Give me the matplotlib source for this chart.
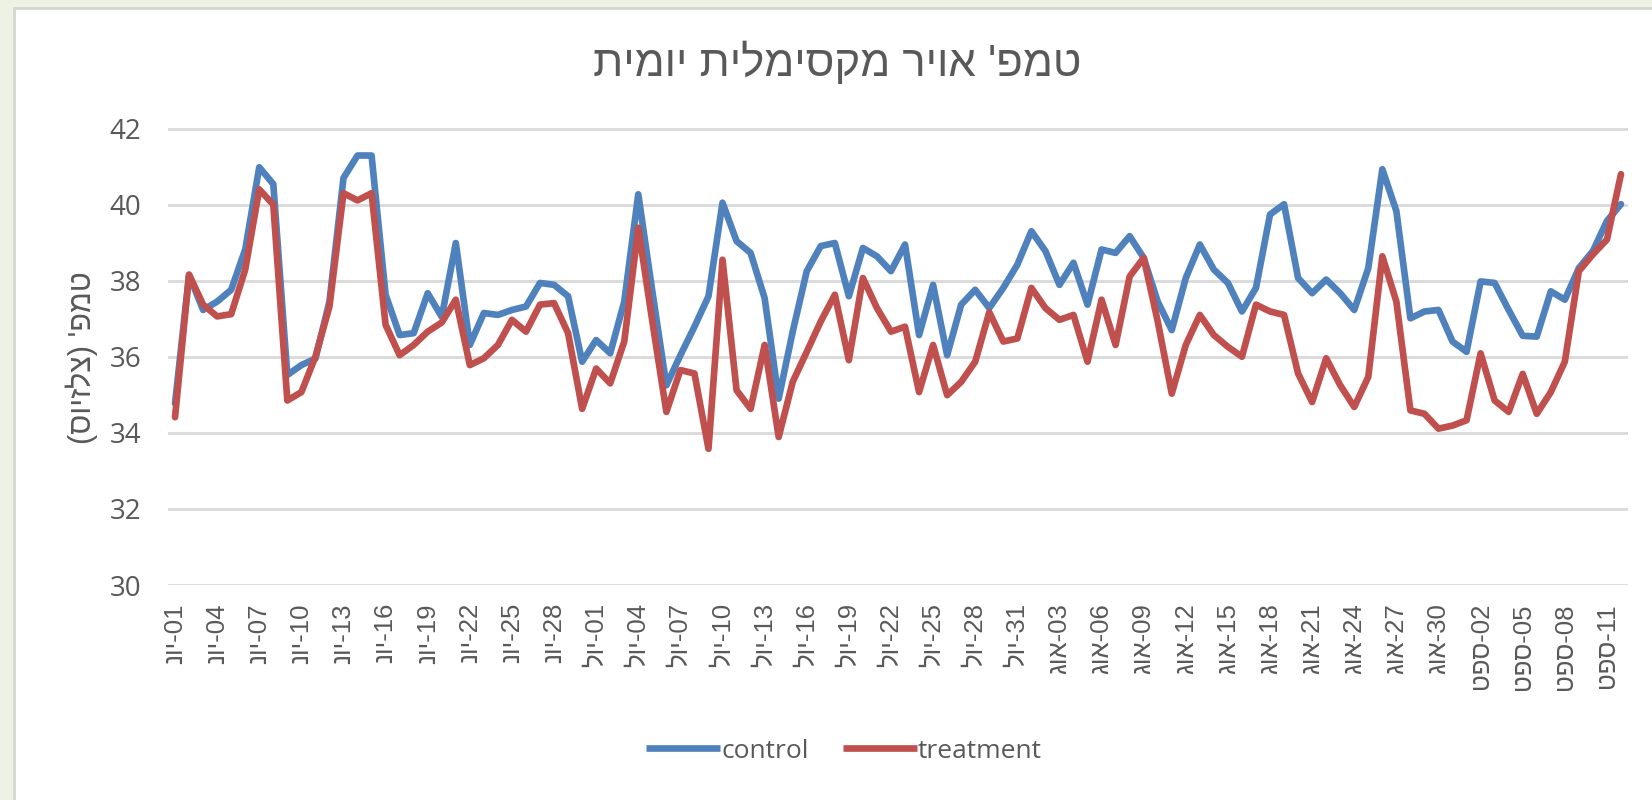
import matplotlib
matplotlib.use("Agg")
import matplotlib.pyplot as plt
from matplotlib.patches import Rectangle
from matplotlib.lines import Line2D

plt.rcParams['font.family'] = ['Open Sans', 'Liberation Sans', 'DejaVu Sans']
HEB = ['Liberation Sans', 'DejaVu Sans']

# ---------------- data ----------------
title_text = "טמפ' אויר מקסימלית יומית"
ylabel_text = "טמפ' (צלזיוס)"
series_names = ["control", "treatment"]

# month (Hebrew abbreviation) and number of days present for each month
months = ["יונ", "יול", "אוג", "ספט"]
month_days = [30, 31, 31, 12]

control = [34.77, 38.15, 37.23, 37.45, 37.76, 38.82, 40.98, 40.54, 35.52, 35.78,
           35.95, 37.45, 40.70, 41.29, 41.29, 37.63, 36.57, 36.62, 37.67, 37.05,
           38.99, 36.31, 37.15, 37.10, 37.23, 37.32, 37.94, 37.89, 37.59, 35.87,
           36.44, 36.09, 37.45, 40.27, 37.72, 35.25, 36.04, 36.79, 37.59, 40.05,
           39.04, 38.73, 37.54, 34.90, 36.66, 38.25, 38.91, 38.99, 37.59, 38.86,
           38.64, 38.25, 38.95, 36.57, 37.89, 36.04, 37.37, 37.76, 37.28, 37.81,
           38.42, 39.30, 38.78, 37.89, 38.47, 37.37, 38.82, 38.73, 39.17, 38.60,
           37.45, 36.70, 38.07, 38.95, 38.29, 37.94, 37.19, 37.81, 39.74, 40.01,
           38.07, 37.67, 38.03, 37.67, 37.23, 38.33, 40.93, 39.83, 37.01, 37.19,
           37.23, 36.40, 36.13, 37.98, 37.94, 37.23, 36.55, 36.53, 37.72, 37.50,
           38.33, 38.78, 39.57, 40.01]

treatment = [34.41, 38.16, 37.37, 37.06, 37.12, 38.29, 40.40, 40.00, 34.85, 35.07,
             36.00, 37.32, 40.30, 40.11, 40.30, 36.84, 36.04, 36.31, 36.66, 36.90,
             37.50, 35.78, 35.96, 36.31, 36.97, 36.66, 37.37, 37.41, 36.62, 34.63,
             35.69, 35.30, 36.40, 39.39, 36.93, 34.55, 35.65, 35.56, 33.58, 38.55,
             35.12, 34.63, 36.31, 33.89, 35.34, 36.13, 36.93, 37.63, 35.91, 38.07,
             37.28, 36.66, 36.79, 35.07, 36.31, 34.99, 35.34, 35.87, 37.17, 36.40,
             36.48, 37.81, 37.28, 36.97, 37.10, 35.87, 37.50, 36.31, 38.11, 38.60,
             36.93, 35.03, 36.31, 37.10, 36.57, 36.26, 36.00, 37.37, 37.19, 37.10,
             35.56, 34.81, 35.96, 35.25, 34.68, 35.47, 38.64, 37.45, 34.59, 34.50,
             34.11, 34.19, 34.33, 36.09, 34.85, 34.55, 35.55, 34.50, 35.07, 35.87,
             38.25, 38.69, 39.08, 40.80]

y_ticks = [30, 32, 34, 36, 38, 40, 42]
label_every = 3

# category labels (logical text, e.g. "01-יונ")
categories = []
for m, nd in zip(months, month_days):
    for d in range(1, nd + 1):
        categories.append(f"{d:02d}-{m}")


def visual(label):
    """Return visual (left-to-right) order for an RTL label 'dd-MON'."""
    dd, mon = label.split("-")
    return mon[::-1] + "-" + dd


def visual_rtl(text):
    mirror = {"(": ")", ")": "("}
    return "".join(mirror.get(c, c) for c in text[::-1])


# ---------------- style ----------------
W, H = 1652, 800
BLUE = "#4f81bd"
RED = "#c0504d"
GRID = "#d9d9d9"
TXT = "#595959"

fig = plt.figure(figsize=(W / 100, H / 100), dpi=100)
fig.patch.set_facecolor("#eef2e4")
# white chart area with light border
fig.patches.append(Rectangle((14 / W, -0.01), 1.0, 1.01 - 8 / H, transform=fig.transFigure,
                             facecolor="white", edgecolor="#d4d6d0", linewidth=2.0,
                             zorder=-10))

ax = fig.add_axes([168 / W, 1 - 585 / H, (1628 - 168) / W, (585 - 128.5) / H])
ax.set_facecolor("none")
ax.set_zorder(2)

x = list(range(len(categories)))
ax.plot(x, control, color=BLUE, lw=4.8, solid_joinstyle="round",
        solid_capstyle="round", label=series_names[0], zorder=3)
ax.plot(x, treatment, color=RED, lw=4.8, solid_joinstyle="round",
        solid_capstyle="round", label=series_names[1], zorder=3)

ax.set_xlim(-0.5, len(categories) - 0.5)
ax.set_ylim(y_ticks[0], y_ticks[-1])
ax.set_yticks(y_ticks)
ax.set_yticklabels([str(v) for v in y_ticks])
ax.yaxis.grid(True, color=GRID, lw=2.0)
ax.set_axisbelow(True)

tick_pos = x[::label_every]
ax.set_xticks(tick_pos)
ax.set_xticklabels([visual(categories[i]) for i in tick_pos], rotation=90,
                   family=HEB)

for s in ax.spines.values():
    s.set_visible(False)
ax.tick_params(axis="both", length=0, colors=TXT)
ax.tick_params(axis="y", pad=19, labelsize=20)
ax.tick_params(axis="x", pad=13, labelsize=18.5)

fig.text(837 / W, 1 - 63 / H, visual_rtl(title_text), ha="center", va="center",
         fontsize=31.5, color=TXT, family=HEB)
fig.text(82 / W, 1 - 358 / H, visual_rtl(ylabel_text), ha="center", va="center",
         rotation=90, fontsize=22, color=TXT, family=HEB)

handles = [Line2D([0], [0], color=BLUE, lw=4.8, solid_capstyle="butt"),
           Line2D([0], [0], color=RED, lw=4.8, solid_capstyle="butt")]
fig.legend(handles, series_names, loc="center", bbox_to_anchor=(844 / W, 1 - 751 / H),
           ncol=2, frameon=False, fontsize=19, labelcolor=TXT, handlelength=2.8,
           handletextpad=0.05, columnspacing=1.3)

fig.savefig("out.png", dpi=100, facecolor=fig.get_facecolor())
